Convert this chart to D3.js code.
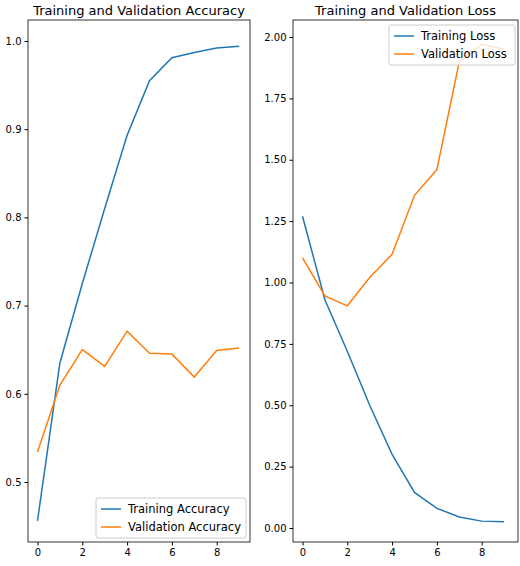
<!DOCTYPE html><html><head><script src="https://d3js.org/d3.v7.min.js"></script>
<style>body{margin:0;background:#fff}text{font-family:"DejaVu Sans",sans-serif}</style></head><body>
<svg id="c" width="520" height="566"></svg>
<script>
const epochs=[0,1,2,3,4,5,6,7,8,9];
const trainAcc=[0.456,0.635,0.725,0.81,0.893,0.955,0.981,0.987,0.992,0.994];
const valAcc=[0.534,0.61,0.65,0.631,0.671,0.646,0.645,0.619,0.649,0.652];
const trainLoss=[1.27,0.93,0.72,0.50,0.30,0.145,0.08,0.045,0.028,0.025];
const valLoss=[1.10,0.945,0.905,1.02,1.115,1.355,1.46,1.90,1.97,1.95];
const xTicks=[0,2,4,6,8];
const accTicks=[0.5,0.6,0.7,0.8,0.9,1.0];
const lossTicks=[0,0.25,0.5,0.75,1.0,1.25,1.5,1.75,2.0];
const svg=d3.select("#c");
function panel(x0,x1,yDom,yRange,ticks,fmt,s1,s2,n1,n2,title,legPos){
  const top=20,bot=542;
  const x=d3.scaleLinear().domain([0,8]).range([x0+9.5,x0+9.5+8*22.4]);
  const y=d3.scaleLinear().domain(yDom).range(yRange);
  const g=svg.append("g");
  g.append("g").attr("transform",`translate(0,${bot})`).call(d3.axisBottom(x).tickValues(xTicks).tickSize(3.5).tickFormat(d3.format("d"))).call(a=>a.select(".domain").remove()).selectAll("text").attr("font-size",10).attr("fill","#000");
  g.append("g").attr("transform",`translate(${x0},0)`).call(d3.axisLeft(y).tickValues(ticks).tickSize(3.5).tickFormat(d3.format(fmt))).call(a=>a.select(".domain").remove()).selectAll("text").attr("font-size",10).attr("fill","#000");
  const line=d3.line().x((d,i)=>x(epochs[i])).y(d=>y(d));
  g.append("path").attr("d",line(s1)).attr("fill","none").attr("stroke","#1f77b4").attr("stroke-width",1.5);
  g.append("path").attr("d",line(s2)).attr("fill","none").attr("stroke","#ff7f0e").attr("stroke-width",1.5);
  g.append("rect").attr("x",x0).attr("y",top).attr("width",x1-x0).attr("height",bot-top).attr("fill","none").attr("stroke","#000").attr("stroke-width",0.8);
  g.append("text").attr("x",(x0+x1)/2).attr("y",15).attr("text-anchor","middle").attr("font-size",13).text(title);
  const lw=legPos.w,lx=legPos.x,ly=legPos.y;
  g.append("rect").attr("x",lx).attr("y",ly).attr("width",lw).attr("height",40).attr("rx",2).attr("fill","#fff").attr("fill-opacity",0.8).attr("stroke","#ccc");
  [[n1,"#1f77b4"],[n2,"#ff7f0e"]].forEach(([n,c],i)=>{
    const yy=ly+11+i*18;
    g.append("line").attr("x1",lx+5).attr("x2",lx+25).attr("y1",yy).attr("y2",yy).attr("stroke",c).attr("stroke-width",1.5);
    g.append("text").attr("x",lx+32).attr("y",yy+4).attr("font-size",11.5).text(n);
  });
}
panel(28,250,[0.5,1.0],[482,41],accTicks,".1f",trainAcc,valAcc,"Training Accuracy","Validation Accuracy","Training and Validation Accuracy",{x:96,y:498,w:150});
panel(293,518,[0,2],[528,37],lossTicks,".2f",trainLoss,valLoss,"Training Loss","Validation Loss","Training and Validation Loss",{x:389,y:25,w:126});
</script></body></html>
